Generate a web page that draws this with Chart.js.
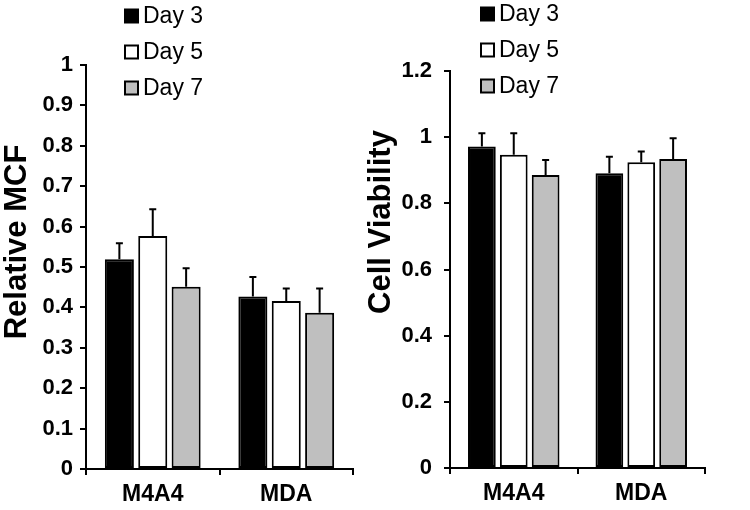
<!DOCTYPE html>
<html>
<head>
<meta charset="utf-8">
<script src="https://cdn.jsdelivr.net/npm/chart.js@4"></script>
<style>
  html, body { margin: 0; padding: 0; background: #fff; }
  #wrap { position: relative; width: 750px; height: 510px; overflow: hidden; }
  #c1 { position: absolute; left: 0; top: 0; }
  #c2 { position: absolute; left: 360px; top: 0; }
</style>
</head>
<body>
<div id="wrap">
  <canvas id="c1" width="360" height="510"></canvas>
  <canvas id="c2" width="390" height="510"></canvas>
</div>
<script>
// ---- data ----
const categories = ['M4A4', 'MDA'];
const seriesNames = ['Day 3', 'Day 5', 'Day 7'];

const mcfDay3 = [0.519, 0.427];
const mcfDay5 = [0.577, 0.416];
const mcfDay7 = [0.451, 0.387];
const mcfErr3 = [0.040, 0.048];
const mcfErr5 = [0.066, 0.031];
const mcfErr7 = [0.046, 0.060];

const viaDay3 = [0.972, 0.891];
const viaDay5 = [0.947, 0.924];
const viaDay7 = [0.886, 0.934];
const viaErr3 = [0.040, 0.050];
const viaErr5 = [0.065, 0.033];
const viaErr7 = [0.045, 0.063];

// ---- styles ----
const FONT = 'Arial, "Liberation Sans", sans-serif';
const fills = ['#000000', '#ffffff', '#bfbfbf'];

function makeDatasets(vals, errs) {
  return vals.map((v, i) => ({
    label: seriesNames[i],
    data: v,
    errors: errs[i],
    backgroundColor: fills[i],
    borderColor: '#000000',
    borderWidth: 2,
    borderSkipped: false,
    categoryPercentage: 0.75,
    barPercentage: 0.87
  }));
}

const errorBarPlugin = {
  id: 'errorBars',
  afterDatasetsDraw(chart) {
    const ctx = chart.ctx;
    const ys = chart.scales.y;
    ctx.save();
    ctx.strokeStyle = '#000';
    ctx.lineWidth = 2;
    chart.data.datasets.forEach((ds, di) => {
      const meta = chart.getDatasetMeta(di);
      meta.data.forEach((el, j) => {
        const v = ds.data[j], e = ds.errors[j];
        const yTop = ys.getPixelForValue(v + e);
        const yBar = ys.getPixelForValue(v);
        ctx.beginPath();
        ctx.moveTo(el.x, yBar);
        ctx.lineTo(el.x, yTop);
        ctx.moveTo(el.x - 3.5, yTop);
        ctx.lineTo(el.x + 3.5, yTop);
        ctx.stroke();
      });
    });
    ctx.restore();
  }
};

const customLegendPlugin = {
  id: 'customLegend',
  afterDraw(chart, args, opts) {
    const ctx = chart.ctx;
    ctx.save();
    ctx.font = '23px ' + FONT;
    ctx.textBaseline = 'middle';
    ctx.textAlign = 'left';
    chart.data.datasets.forEach((ds, i) => {
      const cy = opts.y + i * opts.spacing;
      ctx.fillStyle = ds.backgroundColor;
      ctx.fillRect(opts.x + 1, cy - 6.5, 13, 13);
      ctx.strokeStyle = '#000';
      ctx.lineWidth = 2;
      ctx.strokeRect(opts.x + 1, cy - 6.5, 13, 13);
      ctx.fillStyle = '#000';
      ctx.fillText(ds.label, opts.x + 19, cy + 1);
    });
    ctx.restore();
  }
};

const axisTitlePlugin = {
  id: 'axisTitle',
  afterDraw(chart, args, opts) {
    const ctx = chart.ctx;
    ctx.save();
    ctx.font = 'bold ' + opts.size + 'px ' + FONT;
    ctx.fillStyle = '#000';
    ctx.textAlign = 'center';
    ctx.textBaseline = 'alphabetic';
    ctx.translate(opts.x, opts.y);
    ctx.rotate(-Math.PI / 2);
    ctx.fillText(opts.text, 0, 0);
    ctx.restore();
  }
};

function makeChart(canvasId, vals, errs, cfg) {
  return new Chart(document.getElementById(canvasId), {
    type: 'bar',
    data: { labels: categories, datasets: makeDatasets(vals, errs) },
    plugins: [errorBarPlugin, customLegendPlugin, axisTitlePlugin],
    options: {
      responsive: false,
      animation: false,
      layout: { padding: { left: 0, right: cfg.padRight, top: cfg.padTop, bottom: 0 } },
      plugins: {
        legend: { display: false },
        tooltip: { enabled: false },
        customLegend: cfg.legend,
        axisTitle: cfg.title
      },
      scales: {
        x: {
          afterFit(s) { s.height = cfg.xHeight; },
          grid: { display: true, offset: true, drawOnChartArea: false, drawTicks: true,
                  tickLength: 6, color: '#000', lineWidth: 2 },
          border: { display: true, color: '#000', width: 2 },
          ticks: { color: '#000', font: { family: FONT, size: 23, weight: 'bold' }, padding: 6 }
        },
        y: {
          min: 0, max: cfg.yMax,
          afterFit(s) { s.width = cfg.yWidth; },
          grid: { display: true, drawOnChartArea: false, drawTicks: true,
                  tickLength: 6, color: '#000', lineWidth: 2 },
          border: { display: true, color: '#000', width: 2 },
          ticks: {
            stepSize: cfg.yStep,
            color: '#000',
            padding: cfg.yPad,
            font: { family: FONT, size: 22, weight: 'bold' },
            callback: v => String(Number(v.toFixed(1)))
          }
        }
      }
    }
  });
}

makeChart('c1', [mcfDay3, mcfDay5, mcfDay7], [mcfErr3, mcfErr5, mcfErr7], {
  padRight: 7, padTop: 65, xHeight: 41, yWidth: 86, yMax: 1, yStep: 0.1, yPad: 7,
  legend: { x: 124, y: 16, spacing: 36 },
  title: { text: 'Relative MCF', x: 26, y: 242, size: 31 }
});

makeChart('c2', [viaDay3, viaDay5, viaDay7], [viaErr3, viaErr5, viaErr7], {
  padRight: 45, padTop: 71, xHeight: 42, yWidth: 90, yMax: 1.2, yStep: 0.2, yPad: 12,
  legend: { x: 120, y: 14, spacing: 36 },
  title: { text: 'Cell Viability', x: 30, y: 222, size: 31 }
});
</script>
</body>
</html>
